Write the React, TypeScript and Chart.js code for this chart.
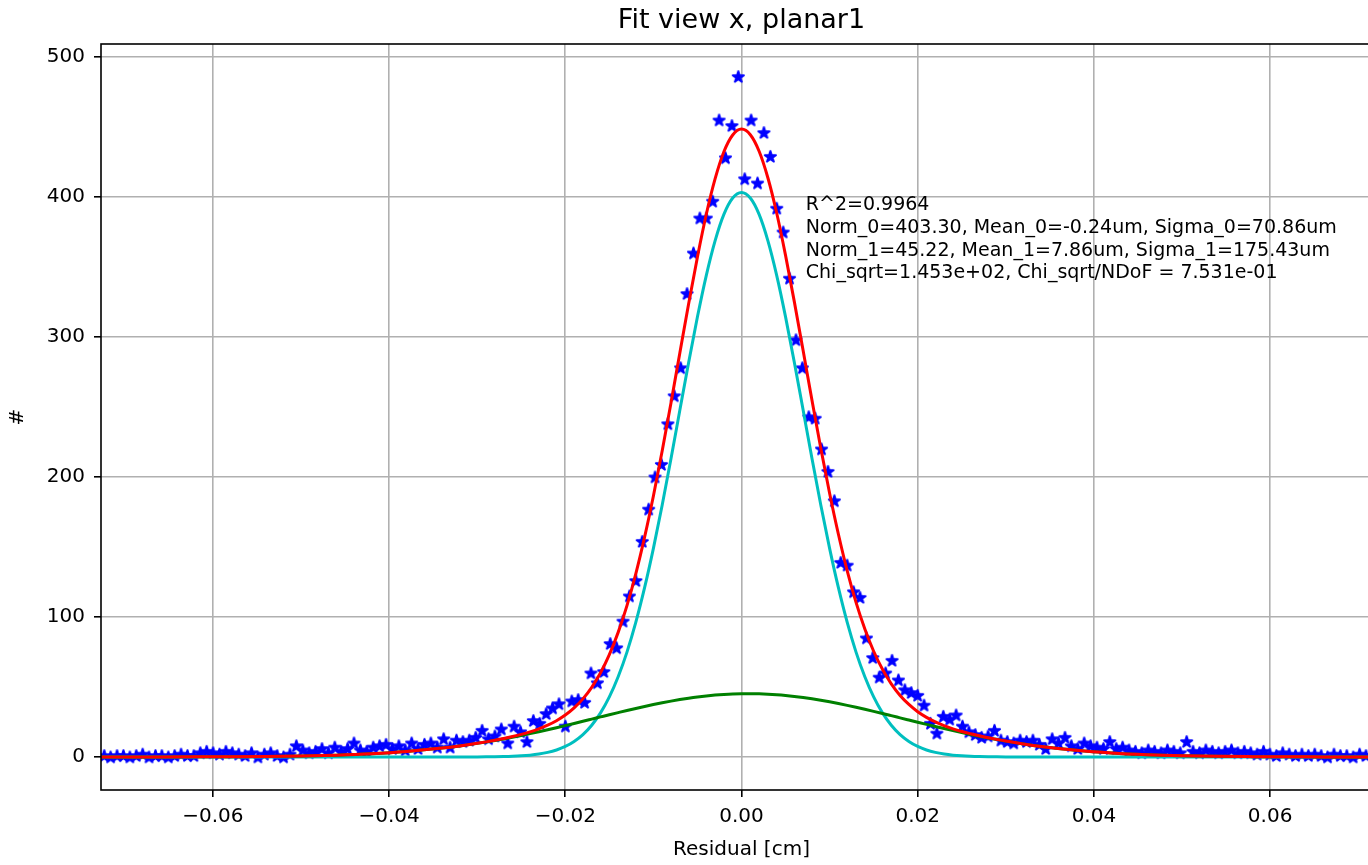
import React, { useEffect, useRef } from "react";
import { Chart, registerables } from "chart.js";

Chart.register(...registerables);

const TITLE = "Fit view x, planar1";
const X_LABEL = "Residual [cm]";
const Y_LABEL = "#";
const X_TICKS = [-0.06, -0.04, -0.02, 0, 0.02, 0.04, 0.06];
const Y_TICKS = [0, 100, 200, 300, 400, 500];
const X_RANGE = [-0.0727, 0.0727];
const Y_RANGE = [-23.6, 509.3];

// histogram range and per-bin counts (200 bins)
const HIST_RANGE = [-0.0727, 0.0727];
const COUNTS = [
  1, 0, 1, 1, 0, 1, 2, 0, 1, 1,
  0, 1, 2, 1, 1, 3, 4, 3, 2, 4,
  3, 2, 1, 3, 0, 2, 3, 1, 0, 2,
  8, 5, 3, 4, 6, 3, 7, 4, 6, 10,
  5, 4, 7, 8, 9, 6, 8, 5, 10, 6,
  9, 10, 7, 13, 7, 12, 11, 12, 14, 19,
  13, 15, 20, 10, 22, 18, 11, 26, 24, 31,
  35, 38, 22, 40, 41, 39, 60, 53, 61, 81,
  78, 97, 115, 126, 154, 177, 200, 209, 238, 258,
  278, 331, 360, 385, 385, 397, 455, 428, 451, 486,
  413, 455, 410, 446, 429, 392, 375, 342, 298, 278,
  243, 242, 220, 204, 183, 139, 137, 118, 114, 85,
  71, 57, 60, 69, 55, 48, 46, 44, 37, 24,
  17, 29, 27, 30, 22, 18, 16, 14, 15, 19,
  12, 11, 10, 12, 11, 12, 9, 6, 13, 10,
  14, 8, 6, 10, 8, 7, 6, 11, 6, 7,
  5, 4, 3, 5, 4, 3, 5, 4, 3, 11,
  4, 3, 5, 4, 3, 4, 5, 3, 4, 3,
  2, 4, 2, 1, 3, 2, 1, 2, 1, 2,
  1, 0, 2, 1, 1, 0, 2, 1, 1, 0,
];

// fit curves read at these x positions
const CURVE_X = [
  -0.074, -0.07, -0.066, -0.062, -0.058, -0.054, -0.05, -0.046, -0.042, -0.038, -0.034, -0.032,
  -0.03, -0.029, -0.028, -0.027, -0.026, -0.025, -0.024, -0.023, -0.022, -0.021,
  -0.02, -0.019, -0.018, -0.017, -0.016, -0.015, -0.014, -0.013, -0.012, -0.011,
  -0.01, -0.009, -0.008, -0.007, -0.006, -0.005, -0.004, -0.003, -0.002, -0.001,
  0,
  0.001, 0.002, 0.003, 0.004, 0.005, 0.006, 0.007, 0.008, 0.009, 0.01,
  0.011, 0.012, 0.013, 0.014, 0.015, 0.016, 0.017, 0.018, 0.019, 0.02,
  0.021, 0.022, 0.023, 0.024, 0.025, 0.026, 0.027, 0.028, 0.029, 0.03,
  0.032, 0.034, 0.038, 0.042, 0.046, 0.05, 0.054, 0.058, 0.062, 0.066, 0.07, 0.074,
];

const TOTAL_FIT = [
  0.005, 0.013, 0.032, 0.075, 0.16, 0.34, 0.68, 1.29, 2.31, 3.93, 6.33, 7.9,
  9.75, 10.79, 11.93, 13.18, 14.58, 16.15, 17.97, 20.11, 22.7, 25.9,
  29.92, 35.04, 41.49, 49.75, 60.11, 73.07, 89.0, 108.1, 130.8, 157.0,
  186.4, 218.7, 253.1, 288.6, 323.8, 357.2, 387.5, 412.9, 432.3, 444.3,
  448.5,
  444.5, 432.7, 413.6, 388.4, 358.3, 325.1, 290.1, 254.8, 220.5, 188.4,
  159.1, 133.0, 110.4, 91.4, 75.5, 62.6, 52.2, 43.9, 37.5, 32.3,
  28.3, 25.0, 22.4, 20.1, 18.2, 16.6, 15.1, 13.7, 12.5, 11.35,
  9.3, 7.53, 4.77, 2.86, 1.63, 0.88, 0.45, 0.22, 0.1, 0.045, 0.019, 0.007,
];

const GAUSS_0 = [
  0, 0, 0, 0, 0, 0, 0, 0, 0, 0, 0, 0.01,
  0.05, 0.09, 0.16, 0.28, 0.48, 0.8, 1.3, 2.08, 3.25, 4.99,
  7.51, 11.1, 16.0, 22.7, 31.5, 42.9, 57.3, 74.9, 96.1, 120.9,
  149.0, 180.0, 213.2, 247.6, 281.8, 314.4, 343.9, 368.7, 387.6, 399.3,
  403.3,
  399.3, 387.6, 368.7, 343.9, 314.4, 281.8, 247.6, 213.2, 180.0, 149.0,
  120.9, 96.1, 74.9, 57.3, 42.9, 31.5, 22.7, 16.0, 11.1, 7.51,
  4.99, 3.25, 2.08, 1.3, 0.8, 0.48, 0.28, 0.16, 0.09, 0.05,
  0.01, 0, 0, 0, 0, 0, 0, 0, 0, 0, 0, 0,
];

const GAUSS_1 = [
  0.005, 0.013, 0.032, 0.075, 0.16, 0.34, 0.68, 1.29, 2.31, 3.93, 6.33, 7.89,
  9.7, 10.7, 11.77, 12.9, 14.1, 15.35, 16.67, 18.03, 19.45, 20.91,
  22.41, 23.94, 25.49, 27.05, 28.61, 30.17, 31.7, 33.21, 34.67, 36.09,
  37.43, 38.7, 39.89, 40.98, 41.96, 42.83, 43.57, 44.18, 44.65, 44.99,
  45.17,
  45.22, 45.11, 44.86, 44.47, 43.94, 43.27, 42.47, 41.55, 40.53, 39.4,
  38.17, 36.86, 35.49, 34.05, 32.57, 31.05, 29.5, 27.94, 26.38, 24.82,
  23.28, 21.77, 20.28, 18.84, 17.44, 16.1, 14.81, 13.58, 12.41, 11.3,
  9.29, 7.53, 4.77, 2.86, 1.63, 0.88, 0.45, 0.22, 0.1, 0.045, 0.019, 0.007,
];

const FIT_TEXT = [
  "R^2=0.9964",
  "Norm_0=403.30, Mean_0=-0.24um, Sigma_0=70.86um",
  "Norm_1=45.22, Mean_1=7.86um, Sigma_1=175.43um",
  "Chi_sqrt=1.453e+02, Chi_sqrt/NDoF = 7.531e-01",
];
const FIT_TEXT_POS = { x: 0.0073, y: 394.3 };

const FONT = "'DejaVu Sans', 'Liberation Sans', sans-serif";

function makeStar(color: string): HTMLCanvasElement {
  const c = document.createElement("canvas");
  c.width = 17;
  c.height = 17;
  const g = c.getContext("2d")!;
  const R = 6.4;
  const r = R * 0.381966;
  g.beginPath();
  for (let k = 0; k < 10; k++) {
    const a = -Math.PI / 2 + (k * Math.PI) / 5;
    const rad = k % 2 === 0 ? R : r;
    const px = 8.5 + rad * Math.cos(a);
    const py = 9 + rad * Math.sin(a);
    if (k === 0) g.moveTo(px, py);
    else g.lineTo(px, py);
  }
  g.closePath();
  g.fillStyle = color;
  g.fill();
  g.lineWidth = 1.6;
  g.lineJoin = "bevel";
  g.strokeStyle = color;
  g.stroke();
  return c;
}

function fmtX(v: number): string {
  if (Math.abs(v) < 1e-9) return "0.00";
  return (v < 0 ? "\u2212" : "") + Math.abs(v).toFixed(2);
}

export default function App() {
  const ref = useRef<HTMLCanvasElement | null>(null);

  useEffect(() => {
    if (!ref.current) return;
    const n = COUNTS.length;
    const w = (HIST_RANGE[1] - HIST_RANGE[0]) / n;
    const points = COUNTS.map((c, i) => ({ x: HIST_RANGE[0] + w * (i + 0.5), y: c }));
    const toXY = (ys: number[]) => ys.map((y, i) => ({ x: CURVE_X[i], y }));
    const star = makeStar("#0000ff");

    const framePlugin = {
      id: "frameAndText",
      afterDatasetsDraw(chart: any) {
        const { ctx, chartArea } = chart;
        const { left, top, right, bottom } = chartArea;
        ctx.save();
        ctx.strokeStyle = "#000";
        ctx.lineWidth = 1.6;
        ctx.strokeRect(left, top, right - left, bottom - top);
        ctx.restore();
      },
      afterDraw(chart: any) {
        const { ctx, chartArea } = chart;
        const xs = chart.scales.x;
        const ys = chart.scales.y;
        ctx.save();
        // title centred over the axes
        ctx.font = `27px ${FONT}`;
        ctx.fillStyle = "#000";
        ctx.textAlign = "center";
        ctx.textBaseline = "alphabetic";
        ctx.fillText(TITLE, (chartArea.left + chartArea.right) / 2, 28);
        // fit parameters
        const x0 = xs.getPixelForValue(FIT_TEXT_POS.x);
        const y0 = ys.getPixelForValue(FIT_TEXT_POS.y);
        ctx.font = `19px ${FONT}`;
        ctx.textAlign = "left";
        ctx.textBaseline = "middle";
        FIT_TEXT.forEach((t, i) => ctx.fillText(t, x0, y0 + i * 22.8));
        ctx.restore();
      },
    };

    const chart = new Chart(ref.current, {
      type: "scatter",
      data: {
        datasets: [
          {
            data: toXY(TOTAL_FIT),
            showLine: true,
            borderColor: "#ff0000",
            borderWidth: 3,
            pointRadius: 0,
            cubicInterpolationMode: "monotone",
            order: 0,
          },
          {
            data: toXY(GAUSS_1),
            showLine: true,
            borderColor: "#008000",
            borderWidth: 3,
            pointRadius: 0,
            cubicInterpolationMode: "monotone",
            order: 1,
          },
          {
            data: toXY(GAUSS_0),
            showLine: true,
            borderColor: "#00bfbf",
            borderWidth: 3,
            pointRadius: 0,
            cubicInterpolationMode: "monotone",
            order: 2,
          },
          {
            data: points,
            showLine: false,
            pointStyle: star as any,
            pointRadius: 6,
            backgroundColor: "#0000ff",
            borderColor: "#0000ff",
            order: 3,
          },
        ] as any,
      },
      options: {
        animation: false,
        responsive: false,
        devicePixelRatio: 1,
        events: [],
        layout: { padding: { top: 44, left: 0, right: 0, bottom: 0 } },
        plugins: {
          legend: { display: false },
          tooltip: { enabled: false },
          title: { display: false },
        },
        scales: {
          x: {
            type: "linear",
            min: X_RANGE[0],
            max: X_RANGE[1],
            afterBuildTicks: (s: any) => {
              s.ticks = X_TICKS.map((v) => ({ value: v }));
            },
            afterFit: (s: any) => {
              s.height = 75;
            },
            grid: {
              color: "#b0b0b0",
              lineWidth: 1.6,
              drawTicks: true,
              tickLength: 7,
              tickColor: "#000",
              tickWidth: 1.6,
            },
            border: { display: false },
            ticks: {
              color: "#000",
              font: { family: FONT, size: 20 },
              padding: 8,
              maxRotation: 0,
              autoSkip: false,
              callback: (v: any) => fmtX(Number(v)),
            },
            title: {
              display: true,
              text: X_LABEL,
              color: "#000",
              font: { family: FONT, size: 20, lineHeight: 1.2 },
              padding: { top: 0, bottom: 3 },
            },
          },
          y: {
            type: "linear",
            min: Y_RANGE[0],
            max: Y_RANGE[1],
            afterBuildTicks: (s: any) => {
              s.ticks = Y_TICKS.map((v) => ({ value: v }));
            },
            afterFit: (s: any) => {
              s.width = 101;
            },
            grid: {
              color: "#b0b0b0",
              lineWidth: 1.6,
              drawTicks: true,
              tickLength: 7,
              tickColor: "#000",
              tickWidth: 1.6,
            },
            border: { display: false },
            ticks: {
              color: "#000",
              font: { family: FONT, size: 20 },
              padding: 9,
              autoSkip: false,
              callback: (v: any) => String(v),
            },
            title: {
              display: true,
              text: Y_LABEL,
              color: "#000",
              font: { family: FONT, size: 20, lineHeight: 1.2 },
              padding: { top: 6, bottom: 0 },
            },
          },
        },
      } as any,
      plugins: [framePlugin],
    });

    return () => chart.destroy();
  }, []);

  return (
    <div
      style={{
        position: "fixed",
        left: 0,
        top: 0,
        width: "100vw",
        height: "100vh",
        overflow: "hidden",
        background: "#fff",
      }}
    >
      <canvas
        ref={ref}
        width={1389}
        height={865}
        style={{ display: "block", width: 1389, height: 865 }}
      />
    </div>
  );
}
